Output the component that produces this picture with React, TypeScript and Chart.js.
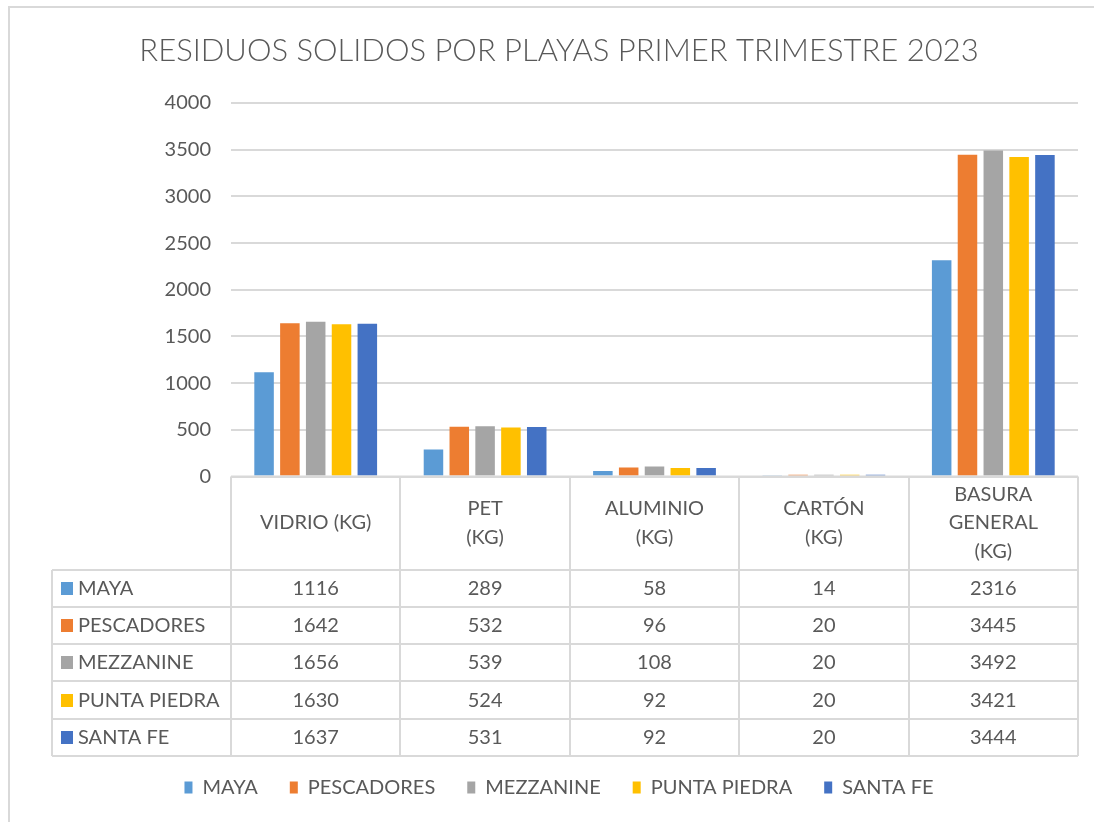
import React, { useEffect, useRef } from "react";
import { Chart, registerables } from "chart.js";

Chart.register(...registerables);

const chartTitle = "RESIDUOS SOLIDOS POR PLAYAS PRIMER TRIMESTRE 2023";
const categoryLines: string[][] = [
  ["VIDRIO (KG)"],
  ["PET", "(KG)"],
  ["ALUMINIO", "(KG)"],
  ["CARTÓN", "(KG)"],
  ["BASURA", "GENERAL", "(KG)"],
];
const seriesNames = ["MAYA", "PESCADORES", "MEZZANINE", "PUNTA PIEDRA", "SANTA FE"];
const maya = [1116, 289, 58, 14, 2316];
const pescadores = [1642, 532, 96, 20, 3445];
const mezzanine = [1656, 539, 108, 20, 3492];
const puntaPiedra = [1630, 524, 92, 20, 3421];
const santaFe = [1637, 531, 92, 20, 3444];
const seriesValues = [maya, pescadores, mezzanine, puntaPiedra, santaFe];
const seriesColors = ["#5B9BD5", "#ED7D31", "#A5A5A5", "#FFC000", "#4472C4"];
const yMin = 0;
const yMax = 4000;
const yStep = 500;

const FONT = "Lato, 'Open Sans', sans-serif";
const TEXT = "#595959";
const LINE = "#D9D9D9";
const FS = 20;

const tablePlugin = {
  id: "dataTable",
  beforeDraw(chart: any) {
    const ctx = chart.ctx;
    ctx.save();
    ctx.fillStyle = "#ffffff";
    ctx.fillRect(0, 0, chart.width, chart.height);
    ctx.strokeStyle = LINE;
    ctx.lineWidth = 2;
    ctx.strokeRect(9, 7, 1300, 1000);
    ctx.restore();
  },
  afterDraw(chart: any) {
    const ctx = chart.ctx;
    const area = chart.chartArea;
    const xs = chart.scales.x;
    const n = categoryLines.length;
    const left = area.left;
    const right = area.right;
    const top = area.bottom;
    const catW = (right - left) / n;
    const headerH = 93;
    const rowH = 37.3;
    const labelLeft = 52;
    const bottom = top + headerH + rowH * seriesNames.length;

    ctx.save();
    ctx.strokeStyle = LINE;
    ctx.lineWidth = 2;
    ctx.beginPath();
    ctx.moveTo(left, top);
    ctx.lineTo(right, top);
    for (let k = 0; k <= seriesNames.length; k++) {
      const y = Math.round(top + headerH + k * rowH);
      ctx.moveTo(labelLeft, y);
      ctx.lineTo(right, y);
    }
    for (let i = 0; i <= n; i++) {
      const x = Math.round(left + catW * i);
      ctx.moveTo(x, top);
      ctx.lineTo(x, bottom);
    }
    ctx.moveTo(labelLeft, Math.round(top + headerH));
    ctx.lineTo(labelLeft, bottom);
    ctx.stroke();

    ctx.fillStyle = TEXT;
    ctx.font = `${FS}px ${FONT}`;
    ctx.textAlign = "center";
    ctx.textBaseline = "middle";
    const headerLineH = 28.5;
    for (let i = 0; i < n; i++) {
      const cx = xs.getPixelForValue(i);
      const lines = categoryLines[i];
      const cy = top + headerH / 2;
      lines.forEach((ln, j) => {
        ctx.fillText(ln, cx, cy + (j - (lines.length - 1) / 2) * headerLineH);
      });
    }
    seriesNames.forEach((name, s) => {
      const cy = top + headerH + rowH * (s + 0.5);
      ctx.fillStyle = seriesColors[s];
      ctx.fillRect(61, Math.round(cy - 6.5), 12, 13);
      ctx.fillStyle = TEXT;
      ctx.textAlign = "left";
      ctx.fillText(name, 78, cy);
      ctx.textAlign = "center";
      for (let i = 0; i < n; i++) {
        ctx.fillText(String(seriesValues[s][i]), xs.getPixelForValue(i), cy);
      }
    });
    ctx.restore();
  },
};

export default function App() {
  const ref = useRef<HTMLCanvasElement | null>(null);
  useEffect(() => {
    let chart: Chart | null = null;
    let cancelled = false;
    const build = () => {
      if (cancelled || !ref.current) return;
      chart = new Chart(ref.current, {
        type: "bar",
        data: {
          labels: categoryLines,
          datasets: seriesNames.map((name, s) => ({
            label: name,
            data: seriesValues[s],
            backgroundColor: seriesColors[s],
            borderWidth: 0,
            categoryPercentage: 0.762,
            barPercentage: 0.756,
          })),
        },
        options: {
          responsive: false,
          animation: false,
          devicePixelRatio: 1,
          layout: { padding: { left: 40, right: 16, top: 0, bottom: 14.5 } },
          plugins: {
            title: {
              display: true,
              text: chartTitle,
              color: TEXT,
              font: { family: FONT, size: 31, weight: "300" as any },
              padding: { top: 32, bottom: 33.8 },
            },
            legend: {
              display: true,
              position: "bottom",
              labels: {
                color: TEXT,
                font: { family: FONT, size: FS },
                boxWidth: 8,
                boxHeight: 12,
                padding: 32,
              },
            },
            tooltip: { enabled: false },
          },
          scales: {
            x: {
              ticks: { display: false },
              grid: { display: false },
              border: { display: false },
              afterFit: (scale: any) => {
                scale.height = 269;
              },
            },
            y: {
              min: yMin,
              max: yMax,
              ticks: {
                stepSize: yStep,
                color: TEXT,
                font: { family: FONT, size: FS },
                padding: 20,
                callback: (v: any) => String(v),
              },
              grid: { color: LINE, lineWidth: 2, drawTicks: false },
              border: { display: false },
              afterFit: (scale: any) => {
                scale.width = 191;
              },
            },
          },
        },
        plugins: [tablePlugin],
      });
    };
    const fontsReady = (document as any).fonts
      ? Promise.all([
          (document as any).fonts.load(`${FS}px Lato`),
          (document as any).fonts.load(`300 31px Lato`),
        ]).catch(() => null)
      : Promise.resolve();
    fontsReady.then(build);
    return () => {
      cancelled = true;
      if (chart) chart.destroy();
    };
  }, []);
  return (
    <div style={{ position: "fixed", left: 0, top: 0, width: 1094, height: 822, background: "#fff" }}>
      <canvas ref={ref} width={1094} height={822} style={{ width: 1094, height: 822, display: "block" }} />
    </div>
  );
}
